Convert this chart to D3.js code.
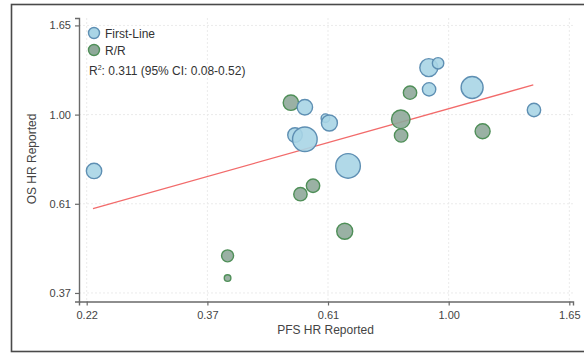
<!DOCTYPE html>
<html>
<head>
<meta charset="utf-8">
<script src="https://cdn.jsdelivr.net/npm/d3@7"></script>
<style>
  body { margin: 0; background: #fff; }
  text { font-family: "Liberation Sans", Arial, sans-serif; }
</style>
</head>
<body>
<script>
// study HRs (PFS vs OS)
const group = ["First-Line","R/R","First-Line","First-Line","First-Line","First-Line","First-Line","First-Line",
  "First-Line","First-Line","R/R","First-Line","First-Line","First-Line","R/R","R/R","R/R","R/R","R/R","R/R","R/R","R/R"];
const pfsHR = [0.230, 0.520, 0.551, 0.600, 0.610, 0.529, 0.551, 0.659,
  0.921, 0.957, 0.852, 0.922, 1.102, 1.424, 0.820, 0.821, 1.151, 0.541, 0.570, 0.650, 0.400, 0.400];
const osHR = [0.729, 1.069, 1.042, 0.980, 0.954, 0.892, 0.871, 0.750,
  1.301, 1.333, 1.131, 1.152, 1.164, 1.026, 0.974, 0.890, 0.911, 0.640, 0.671, 0.520, 0.453, 0.400];
const weight = [379, 379, 379, 118, 410, 341, 968, 968,
  518, 208, 287, 287, 774, 287, 554, 287, 360, 287, 287, 410, 230, 70];

const tickVals = [0.2231, 0.3679, 0.6065, 1.0, 1.6487];
const tickLabels = ["0.22", "0.37", "0.61", "1.00", "1.65"];

// fitted line (log-log), end points
const fitX = [0.229, 1.420];
const fitY = [0.590, 1.181];

const legendItems = ["First-Line", "R/R"];
const r2Text = ": 0.311 (95% CI: 0.08-0.52)";

const colors = {
  "First-Line": { fill: "#a9d5e6", stroke: "#5e8fb3" },
  "R/R": { fill: "#8fa99a", stroke: "#4f8f58" }
};

const W = 584, H = 354;
const svg = d3.select("body").append("svg").attr("width", W).attr("height", H);

// outer frame
svg.append("rect")
  .attr("x", 11.5).attr("y", 4.5)
  .attr("width", 590).attr("height", 347)
  .attr("fill", "none").attr("stroke", "#4a4a4a").attr("stroke-width", 1.6);

const pLeft = 79, pRight = 573, pTop = 18, pBottom = 301.5;

const x = d3.scaleLog().domain([0.2161, 1.674]).range([pLeft, pRight]);
const y = d3.scaleLog().domain([0.3507, 1.7187]).range([pBottom, pTop]);
const r = d3.scaleSqrt().domain([0, 1000]).range([0, 12.5]);

// grid
const grid = svg.append("g");
grid.selectAll("line.v").data(tickVals).join("line")
  .attr("class", "v")
  .attr("x1", d => x(d)).attr("x2", d => x(d))
  .attr("y1", pTop).attr("y2", pBottom)
  .attr("stroke", "#ebebeb").attr("stroke-dasharray", "2,2");
grid.selectAll("line.h").data(tickVals.slice(1)).join("line")
  .attr("class", "h")
  .attr("x1", pLeft).attr("x2", pRight)
  .attr("y1", d => y(d)).attr("y2", d => y(d))
  .attr("stroke", "#ebebeb").attr("stroke-dasharray", "2,2");

// axes
const xAxis = svg.append("g")
  .attr("transform", `translate(0,${pBottom})`)
  .call(d3.axisBottom(x).tickValues(tickVals).tickFormat((d, i) => tickLabels[i]).tickSize(4).tickPadding(6));
const yAxis = svg.append("g")
  .attr("transform", `translate(${pLeft},0)`)
  .call(d3.axisLeft(y).tickValues(tickVals.slice(1)).tickFormat((d, i) => tickLabels[i + 1]).tickSize(4).tickPadding(4));
[xAxis, yAxis].forEach(g => {
  g.select(".domain").attr("stroke", "#6a6a6a").attr("stroke-width", 1.4);
  g.selectAll(".tick line").attr("stroke", "#6a6a6a").attr("stroke-width", 1.2);
  g.selectAll(".tick text").attr("fill", "#444").style("font-size", "11px")
    .style("font-family", "Liberation Sans, Arial, sans-serif");
});

svg.append("text")
  .attr("x", 325.5).attr("y", 334)
  .attr("text-anchor", "middle").attr("fill", "#444").style("font-size", "12px")
  .text("PFS HR Reported");
svg.append("text")
  .attr("transform", "translate(36,159) rotate(-90)")
  .attr("text-anchor", "middle").attr("fill", "#444").style("font-size", "12px")
  .text("OS HR Reported");

// fit line
svg.append("line")
  .attr("x1", x(fitX[0])).attr("y1", y(fitY[0]))
  .attr("x2", x(fitX[1])).attr("y2", y(fitY[1]))
  .attr("stroke", "#f26b6b").attr("stroke-width", 1.3);

// bubbles
const pts = group.map((g, i) => ({ g, px: pfsHR[i], os: osHR[i], w: weight[i] }));
svg.append("g").selectAll("circle").data(pts).join("circle")
  .attr("cx", d => x(d.px)).attr("cy", d => y(d.os)).attr("r", d => r(d.w))
  .attr("fill", d => colors[d.g].fill)
  .attr("fill-opacity", 0.9)
  .attr("stroke", d => colors[d.g].stroke).attr("stroke-width", 1.4);

// legend
const lg = svg.append("g");
legendItems.forEach((k, i) => {
  lg.append("circle").attr("cx", 94).attr("cy", 33 + i * 17).attr("r", 5.5)
    .attr("fill", colors[k].fill).attr("stroke", colors[k].stroke).attr("stroke-width", 1.4);
  lg.append("text").attr("x", 105).attr("y", 37.5 + i * 17)
    .attr("fill", "#333").style("font-size", "12px").text(k);
});
const r2 = lg.append("text").attr("x", 89).attr("y", 75).attr("fill", "#333").style("font-size", "12px");
r2.append("tspan").text("R");
r2.append("tspan").attr("dy", -5).style("font-size", "7px").text("2");
r2.append("tspan").attr("dy", 5).text(r2Text);
</script>
</body>
</html>
